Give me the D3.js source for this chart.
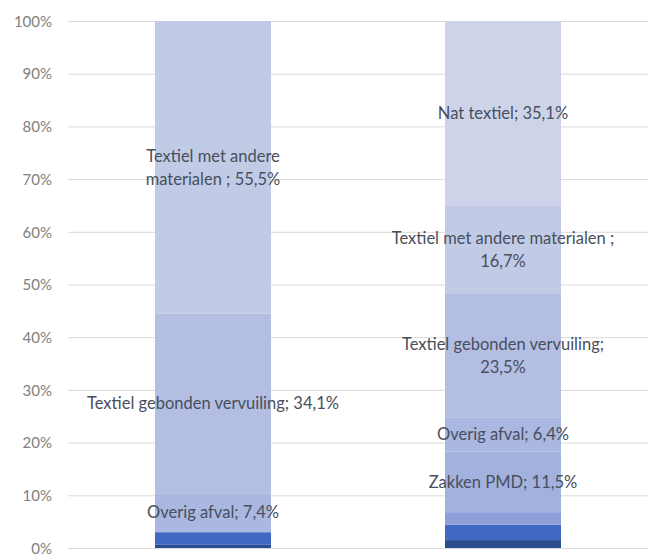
<!DOCTYPE html>
<html lang="nl">
<head>
    <meta charset="UTF-8">
    <title>Samenstelling textiel</title>
    <script src="https://d3js.org/d3.v7.min.js"></script>
    <style>
        body {
            margin: 0;
            background-color: #ffffff;
        }
        .axis text {
            font-family: Lato, "Open Sans", sans-serif;
            font-size: 15px;
            fill: #808080;
        }
        .seg-label {
            font-family: Lato, "Open Sans", sans-serif;
            font-size: 16.5px;
            fill: #474f5e;
        }
    </style>
</head>
<body>
    <script>
        const width = 648;
        const height = 554;
        const marginTop = 21;
        const marginRight = 0;
        const marginBottom = 6;
        const marginLeft = 68;

        // two bars, category labels fall outside the picture
        const categories = ["Monster 1", "Monster 2"];

        // series from bottom to top of the stack
        const series = ["Serie 1", "Serie 2", "Serie 3", "Zakken PMD", "Overig afval",
                        "Textiel gebonden vervuiling", "Textiel met andere materialen", "Nat textiel"];
        const valuesLeft = [0.6, 2.4, 0, 0, 7.4, 34.1, 55.5, 0];
        const valuesRight = [1.5, 2.9, 2.4, 11.5, 6.4, 23.5, 16.7, 35.1];
        const seriesColors = ["#2b4c8e", "#3f69c2", "#8d9fd6", "#a3b1de", "#aab7e0",
                              "#b3bee2", "#c2cbe6", "#cdd4ea"];

        // data label lines per segment (null = no label)
        const labelsLeft = [null, null, null, null,
            ["Overig afval; 7,4%"],
            ["Textiel gebonden vervuiling; 34,1%"],
            ["Textiel met andere", "materialen ; 55,5%"],
            null];
        const labelsRight = [null, null, null,
            ["Zakken PMD; 11,5%"],
            ["Overig afval; 6,4%"],
            ["Textiel gebonden vervuiling;", "23,5%"],
            ["Textiel met andere materialen ;", "16,7%"],
            ["Nat textiel; 35,1%"]];

        const yTicks = [0, 10, 20, 30, 40, 50, 60, 70, 80, 90, 100];

        const table = categories.map((c, i) => {
            const row = {category: c};
            const vals = i === 0 ? valuesLeft : valuesRight;
            series.forEach((s, j) => row[s] = vals[j]);
            return row;
        });
        const labelTable = [labelsLeft, labelsRight];

        const stacked = d3.stack().keys(series)(table);

        const x = d3.scaleBand()
                    .domain(categories)
                    .range([marginLeft, width - marginRight])
                    .paddingInner(0.6)
                    .paddingOuter(0.3);

        const y = d3.scaleLinear()
                    .domain([0, 100])
                    .range([height - marginBottom, marginTop]);

        const color = d3.scaleOrdinal().domain(series).range(seriesColors);

        const svg = d3.select("body").append("svg")
                      .attr("width", width)
                      .attr("height", height)
                      .attr("viewBox", [0, 0, width, height]);

        // gridlines
        svg.append("g")
           .selectAll("line")
           .data(yTicks)
           .join("line")
           .attr("x1", marginLeft)
           .attr("x2", width - marginRight)
           .attr("y1", d => y(d) + 0.5)
           .attr("y2", d => y(d) + 0.5)
           .attr("stroke", "#d9d9d9")
           .attr("stroke-width", 1);

        const yAxis = svg.append("g")
           .attr("class", "axis")
           .attr("transform", `translate(${marginLeft - 16},0)`)
           .call(d3.axisLeft(y).tickValues(yTicks).tickFormat(d => d + "%").tickSize(0).tickPadding(0));
        yAxis.select(".domain").remove();
        yAxis.selectAll("text").attr("dy", "0.35em");

        // stacked bars
        svg.append("g")
           .selectAll("g")
           .data(stacked)
           .join("g")
           .attr("fill", d => color(d.key))
           .selectAll("rect")
           .data(d => d)
           .join("rect")
           .attr("x", d => x(d.data.category))
           .attr("width", x.bandwidth())
           .attr("y", d => y(d[1]))
           .attr("height", d => y(d[0]) - y(d[1]));

        // data labels, centred on their segment
        const labelData = [];
        stacked.forEach((layer, j) => {
            layer.forEach((d, i) => {
                const lines = labelTable[i][j];
                if (lines) labelData.push({
                    cx: x(d.data.category) + x.bandwidth() / 2,
                    cy: y((d[0] + d[1]) / 2),
                    lines: lines
                });
            });
        });

        const lineHeight = 23;
        svg.append("g")
           .selectAll("text")
           .data(labelData)
           .join("text")
           .attr("class", "seg-label")
           .attr("text-anchor", "middle")
           .attr("x", d => d.cx)
           .attr("y", d => d.cy - (d.lines.length - 1) * lineHeight / 2)
           .each(function(d) {
               const t = d3.select(this);
               d.lines.forEach((line, k) => {
                   t.append("tspan")
                    .attr("x", d.cx)
                    .attr("dy", k === 0 ? "0.35em" : lineHeight)
                    .text(line);
               });
           });
    </script>
</body>
</html>
